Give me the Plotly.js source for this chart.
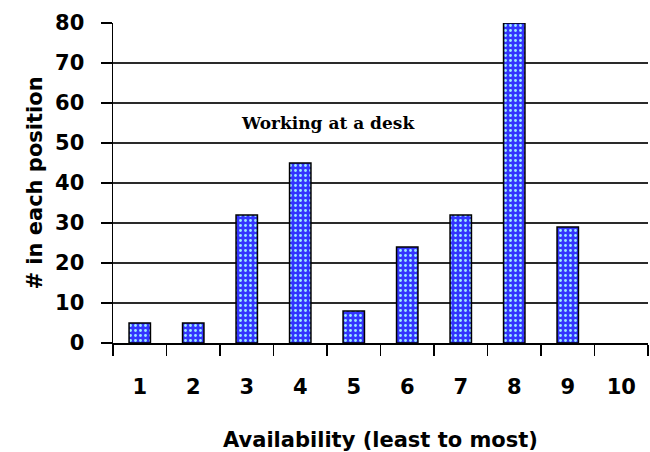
<!DOCTYPE html>
<html>
<head>
<meta charset="utf-8">
<script src="https://cdn.plot.ly/plotly-3.0.1.min.js"></script>
<style>html,body{margin:0;padding:0;background:#fff;}#chart{width:650px;height:452px;}</style>
</head>
<body>
<div id="chart"></div>
<script>
var categories = ["1","2","3","4","5","6","7","8","9","10"];
var counts = [5, 5, 32, 45, 8, 24, 32, 80, 29, 0];
var yTicks = [0, 10, 20, 30, 40, 50, 60, 70, 80];
var chartLabel = "Working at a desk";
var xTitle = "Availability (least to most)";
var yTitle = "# in each position";

var trace = {
  type: "bar",
  x: categories,
  y: counts,
  marker: {
    color: "#3434ff",
    line: {color: "#000", width: counts.map(function(v){ return v > 0 ? 1.5 : 0; })},
    pattern: {shape: ".", fgcolor: "#9cecff", bgcolor: "#3434ff", size: 5, solidity: 0.25}
  },
  hoverinfo: "skip"
};

var tickFont = {family: "DejaVu Sans", size: 21, weight: "bold", color: "#000"};
var titleFont = {family: "DejaVu Sans", size: 21, weight: "bold", color: "#000"};

var layout = {
  width: 650, height: 452,
  margin: {l: 113, r: 2, t: 23, b: 109},
  paper_bgcolor: "#fff", plot_bgcolor: "#fff",
  bargap: 0.6,
  showlegend: false,
  font: {family: "DejaVu Sans", color: "#000"},
  xaxis: {
    type: "category",
    tickson: "boundaries",
    ticks: "outside", ticklen: 11, tickwidth: 1.5, tickcolor: "#000",
    ticklabelstandoff: 24,
    tickfont: tickFont,
    showline: true, linecolor: "#000", linewidth: 1.5,
    showgrid: false, zeroline: false,
    title: {text: xTitle, font: titleFont, standoff: 35},
    range: [-0.5, 9.5]
  },
  yaxis: {
    range: [0, 80],
    tickvals: yTicks,
    ticks: "outside", ticklen: 11, tickwidth: 1.5, tickcolor: "#000",
    ticklabelstandoff: 12,
    tickfont: tickFont,
    showline: true, linecolor: "#000", linewidth: 1.5,
    showgrid: true, gridcolor: "#2a2a2a", gridwidth: 1.6,
    zeroline: false,
    title: {text: yTitle, font: titleFont, standoff: 6}
  },
  annotations: [{
    text: "<b>" + chartLabel + "</b>",
    xref: "paper", yref: "y",
    x: 0.402, y: 55, xanchor: "center", yanchor: "middle",
    showarrow: false,
    font: {family: "DejaVu Serif", size: 17, color: "#000"}
  }]
};

Plotly.newPlot("chart", [trace], layout, {displayModeBar: false, staticPlot: true});
</script>
</body>
</html>
